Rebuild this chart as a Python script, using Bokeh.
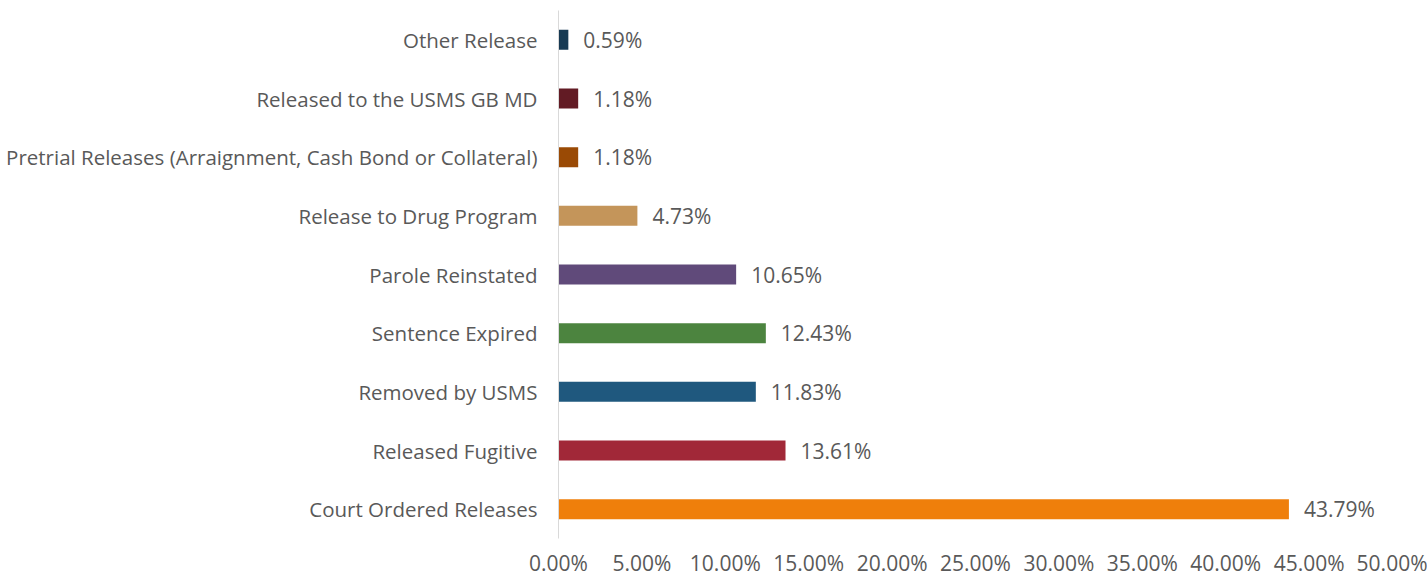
from bokeh.plotting import figure
from bokeh.models import FactorRange, Range1d, FixedTicker, PrintfTickFormatter, ColumnDataSource
from bokeh.core.properties import value
from bokeh.embed import file_html
from bokeh.resources import INLINE

categories = [
    "Court Ordered Releases",
    "Released Fugitive",
    "Removed by USMS",
    "Sentence Expired",
    "Parole Reinstated",
    "Release to Drug Program",
    "Pretrial Releases (Arraignment, Cash Bond or Collateral)",
    "Released to the USMS GB MD",
    "Other Release",
]
percentages = [43.79, 13.61, 11.83, 12.43, 10.65, 4.73, 1.18, 1.18, 0.59]
colors = ["#ef7f0b", "#a12838", "#1f587e", "#4c843f", "#604a7a",
          "#c4955a", "#9a4a05", "#621b24", "#183a53"]
x_ticks = [0, 5, 10, 15, 20, 25, 30, 35, 40, 45, 50]

FONT = "Open Sans"
TEXT_COLOR = "#595959"
FS = "21px"

src = ColumnDataSource(dict(
    cat=categories,
    val=percentages,
    color=colors,
    label=[f"{v:.2f}%" for v in percentages],
))

p = figure(
    width=1427, height=579,
    y_range=FactorRange(factors=categories),
    x_range=Range1d(0, 50),
    output_backend="svg", toolbar_location=None,
    min_border_left=558, min_border_right=35,
    min_border_top=10, min_border_bottom=41,
)
p.outline_line_color = None
p.background_fill_color = "white"
p.border_fill_color = "white"
p.xgrid.visible = False
p.ygrid.visible = False

p.hbar(y="cat", right="val", left=0, height=0.34, color="color", line_color=None, source=src)
p.text(x="val", y="cat", text="label", source=src, x_offset=15,
       text_align="left", text_baseline="middle",
       text_font=value(FONT), text_font_size=FS, text_color=TEXT_COLOR)

xa = p.xaxis[0]
xa.ticker = FixedTicker(ticks=x_ticks)
xa.formatter = PrintfTickFormatter(format="%.2f%%")
xa.axis_line_color = None
xa.major_tick_line_color = None
xa.minor_tick_line_color = None
xa.major_tick_out = 0
xa.major_label_standoff = 10
xa.major_label_text_font = FONT
xa.major_label_text_font_size = FS
xa.major_label_text_color = TEXT_COLOR

ya = p.yaxis[0]
ya.axis_line_color = "#d9d9d9"
ya.axis_line_width = 1
ya.major_tick_line_color = None
ya.minor_tick_line_color = None
ya.major_tick_out = 0
ya.major_label_standoff = 21
ya.major_label_text_font = FONT
ya.major_label_text_font_size = "20.5px"
ya.major_label_text_color = TEXT_COLOR

open("out.html", "w").write(file_html(p, INLINE))
